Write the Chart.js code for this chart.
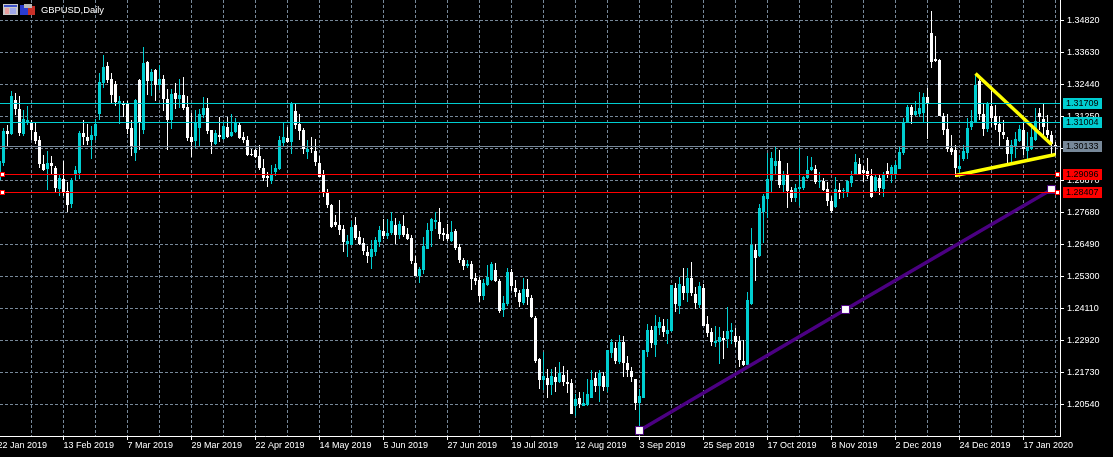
<!DOCTYPE html>
<html>
<head>
<meta charset="utf-8">
<title>GBPUSD,Daily</title>
<script src="https://cdn.jsdelivr.net/npm/chart.js@4/dist/chart.umd.min.js"></script>
<style>
html, body { margin: 0; padding: 0; background: #000; overflow: hidden; }
canvas { display: block; }
</style>
</head>
<body>
<canvas id="chart" width="1113" height="457"></canvas>
<script>
const symbolTitle = 'GBPUSD,Daily';

const opens = [
1.28877,1.29510,1.30700,1.30588,1.31852,1.31518,1.30588,1.30997,1.30997,1.30662,
1.30365,1.29472,1.29287,1.29510,1.29324,1.28543,1.28915,1.28468,1.27985,1.29063,
1.29138,1.30625,1.30477,1.30365,1.30514,1.31332,1.32485,1.33117,1.32633,1.32447,
1.31704,1.31704,1.31704,1.30811,1.29882,1.32596,1.30737,1.33266,1.32559,1.32968,
1.32410,1.32633,1.31890,1.31109,1.32113,1.31890,1.32038,1.31592,1.30477,1.30328,
1.30811,1.31295,1.31555,1.30737,1.30216,1.30551,1.30402,1.30848,1.30514,1.30662,
1.30923,1.30477,1.30365,1.29844,1.29993,1.29770,1.29324,1.29026,1.28840,1.29175,
1.29287,1.30253,1.30439,1.30291,1.31443,1.30960,1.30737,1.29919,1.30067,1.29956,
1.29510,1.29063,1.28394,1.27948,1.27316,1.27204,1.27055,1.26497,1.26460,1.27204,
1.26758,1.26535,1.26200,1.26014,1.26200,1.26572,1.26981,1.26795,1.26907,1.27204,
1.26832,1.27167,1.26869,1.26721,1.25791,1.25307,1.25531,1.26312,1.26981,1.27316,
1.27316,1.26907,1.26869,1.26609,1.26981,1.26386,1.25902,1.25679,1.25754,1.25233,
1.25159,1.24564,1.24973,1.25159,1.25531,1.25122,1.24043,1.24266,1.25456,1.24861,
1.24675,1.24303,1.24824,1.24489,1.23746,1.22221,1.21440,1.21514,1.21254,1.21552,
1.21366,1.21626,1.21366,1.21328,1.20473,1.20771,1.20473,1.20510,1.20771,1.21514,
1.21217,1.21589,1.21180,1.22444,1.22630,1.22109,1.22853,1.22072,1.21775,1.21477,
1.20585,1.20771,1.22481,1.23299,1.22742,1.23374,1.23448,1.23151,1.23262,1.24861,
1.24192,1.24936,1.24675,1.25233,1.24638,1.24229,1.24861,1.23522,1.23225,1.22816,
1.22853,1.23002,1.22965,1.23225,1.23076,1.22890,1.22147,1.21998,1.24266,1.26274,
1.26051,1.27687,1.28171,1.28877,1.29398,1.29584,1.28692,1.29063,1.28506,1.28208,
1.28543,1.28580,1.28952,1.29249,1.29287,1.28803,1.28840,1.28543,1.28097,1.27873,
1.28506,1.28468,1.28431,1.28766,1.29101,1.29472,1.29249,1.29212,1.29026,1.28468,
1.28952,1.28543,1.29212,1.29101,1.29101,1.29287,1.29882,1.30997,1.31592,1.31295,
1.31332,1.31369,1.31964,1.34344,1.33377,1.33340,1.31257,1.30774,1.30067,1.29993,
1.29287,1.29658,1.29882,1.30848,1.31034,1.32559,1.31332,1.30774,1.31629,1.31257,
1.30960,1.30662,1.30365,1.29844,1.30142,1.30328,1.30737,1.29956,1.30030,1.30365,
1.31369,1.31146,1.30737,1.30551,1.30179
];
const highs = [
1.29696,1.30811,1.30923,1.32187,1.32113,1.32001,1.31481,1.31629,1.31109,1.30997,
1.30514,1.29807,1.29956,1.29770,1.29398,1.29101,1.29584,1.28803,1.28952,1.29398,
1.30700,1.31109,1.30960,1.30886,1.31146,1.32857,1.33526,1.33266,1.32857,1.32559,
1.32001,1.31815,1.31815,1.31109,1.31890,1.32633,1.33823,1.33303,1.33005,1.33005,
1.33154,1.32782,1.32262,1.32262,1.32485,1.32633,1.32708,1.32001,1.31369,1.31481,
1.31518,1.31964,1.31927,1.30737,1.30737,1.31220,1.31034,1.31220,1.31332,1.31183,
1.31034,1.30662,1.30514,1.30030,1.30030,1.30179,1.29658,1.29175,1.29435,1.29472,
1.30514,1.31034,1.30848,1.31778,1.31704,1.31332,1.30811,1.30365,1.30477,1.30402,
1.29770,1.29249,1.28543,1.27985,1.27576,1.28134,1.27204,1.26832,1.27353,1.27502,
1.26981,1.26721,1.26423,1.26646,1.26758,1.27167,1.27427,1.27427,1.27687,1.27464,
1.27353,1.27576,1.27092,1.26832,1.26051,1.25642,1.26758,1.27278,1.27464,1.27687,
1.27836,1.27092,1.27241,1.27353,1.27055,1.26497,1.25977,1.25902,1.25865,1.25419,
1.25270,1.25196,1.25717,1.25828,1.25791,1.25196,1.24564,1.25605,1.25568,1.25159,
1.24787,1.25233,1.25196,1.24601,1.23820,1.22258,1.22481,1.21849,1.21849,1.21923,
1.22109,1.21961,1.21812,1.21477,1.20919,1.20994,1.20994,1.21477,1.21812,1.21737,
1.21812,1.21737,1.22556,1.22965,1.22853,1.23113,1.23076,1.22332,1.21923,1.21477,
1.21105,1.22556,1.23522,1.23448,1.23857,1.23783,1.23708,1.23708,1.24973,1.25047,
1.25270,1.25605,1.25605,1.25828,1.24898,1.25084,1.25010,1.23820,1.23374,1.23448,
1.23411,1.23262,1.24155,1.23560,1.23374,1.23076,1.22927,1.24712,1.27092,1.26497,
1.27985,1.28357,1.29882,1.29919,1.30142,1.29993,1.29212,1.29510,1.28617,1.28729,
1.30067,1.29026,1.29770,1.29733,1.29435,1.29175,1.28952,1.28803,1.28282,1.28989,
1.28766,1.28580,1.28877,1.29212,1.29844,1.29696,1.29398,1.29696,1.29287,1.29101,
1.29063,1.29175,1.29510,1.29435,1.29584,1.30105,1.31183,1.31667,1.31667,1.31815,
1.32150,1.32113,1.32299,1.35162,1.34232,1.33377,1.31369,1.31332,1.30551,1.30179,
1.29807,1.30179,1.31183,1.31481,1.32782,1.32633,1.31741,1.31778,1.32224,1.31667,
1.31257,1.31109,1.30477,1.30365,1.30662,1.30923,1.31034,1.30662,1.30811,1.31555,
1.31555,1.31704,1.31295,1.30700,1.30291
];
const lows = [
1.28840,1.29398,1.30105,1.30551,1.31295,1.30514,1.30514,1.30923,1.30365,1.30216,
1.29324,1.29212,1.28506,1.29101,1.28431,1.28282,1.28282,1.27687,1.27836,1.28877,
1.28915,1.30179,1.30179,1.29658,1.30365,1.31109,1.32299,1.32485,1.31704,1.31629,
1.30960,1.31220,1.30588,1.29770,1.29584,1.29993,1.30588,1.32038,1.32001,1.31815,
1.32224,1.31443,1.29993,1.30774,1.31518,1.31555,1.31481,1.30328,1.29733,1.30067,
1.30105,1.31183,1.30588,1.29844,1.30179,1.30291,1.30365,1.30439,1.30477,1.30625,
1.30402,1.30253,1.29770,1.29770,1.29696,1.29249,1.28840,1.28617,1.28729,1.29026,
1.29249,1.30142,1.30253,1.29844,1.30774,1.30365,1.29844,1.29658,1.29882,1.29398,
1.28989,1.28245,1.27836,1.27092,1.27130,1.26832,1.26200,1.26014,1.26460,1.26646,
1.26460,1.26088,1.25791,1.25568,1.26051,1.26386,1.26683,1.26683,1.26832,1.26497,
1.26683,1.26758,1.26646,1.25754,1.25307,1.25047,1.25382,1.26312,1.26386,1.27055,
1.26683,1.26609,1.26609,1.26572,1.26274,1.25791,1.25531,1.25605,1.24787,1.24973,
1.24341,1.24415,1.24936,1.25122,1.25084,1.23932,1.23783,1.24192,1.24750,1.24527,
1.24155,1.24229,1.24229,1.23746,1.22072,1.21105,1.21068,1.20771,1.20882,1.20994,
1.21328,1.21217,1.20957,1.20176,1.20101,1.20399,1.20473,1.20473,1.20771,1.20994,
1.20622,1.21031,1.20994,1.22258,1.22035,1.22035,1.21552,1.21552,1.21366,1.20324,
1.19580,1.20771,1.22295,1.22630,1.22295,1.23113,1.23039,1.22779,1.23225,1.23969,
1.23894,1.24415,1.24341,1.24564,1.24080,1.24117,1.23448,1.23039,1.22704,1.22667,
1.22035,1.22221,1.22630,1.22779,1.22667,1.21923,1.21961,1.21998,1.24229,1.25122,
1.26014,1.26535,1.27464,1.28394,1.29063,1.28580,1.28431,1.27836,1.28059,1.28059,
1.27911,1.28506,1.28915,1.29212,1.28729,1.28580,1.28468,1.27911,1.27650,1.27836,
1.28171,1.28208,1.28245,1.28617,1.29101,1.29063,1.28803,1.28915,1.28208,1.28431,
1.28320,1.28245,1.28952,1.28766,1.28915,1.29287,1.29807,1.30997,1.30960,1.31257,
1.31220,1.31034,1.30402,1.33042,1.33266,1.31257,1.30551,1.29919,1.29807,1.28989,
1.29063,1.29584,1.29658,1.30737,1.31034,1.31109,1.30514,1.30662,1.30848,1.30737,
1.30105,1.30402,1.29510,1.29547,1.29696,1.30291,1.29807,1.29621,1.29993,1.30328,
1.30737,1.30551,1.30439,1.29807,1.29807
];
const closes = [
1.29584,1.30700,1.30588,1.32001,1.31518,1.30625,1.31146,1.31109,1.30737,1.30328,
1.29472,1.29249,1.29510,1.29398,1.28580,1.28952,1.28431,1.27948,1.28877,1.29249,
1.30625,1.30477,1.30328,1.30551,1.30960,1.32522,1.33080,1.32596,1.32038,1.31778,
1.31815,1.31667,1.30774,1.30105,1.31852,1.31034,1.33228,1.32559,1.32894,1.32410,
1.32633,1.31890,1.31109,1.32076,1.31890,1.32038,1.31555,1.30439,1.30291,1.30997,
1.31332,1.31555,1.30700,1.30291,1.30625,1.30477,1.30886,1.30477,1.30662,1.31034,
1.30439,1.30365,1.29807,1.29807,1.29733,1.29324,1.28952,1.28952,1.29063,1.29324,
1.30365,1.30477,1.30291,1.31741,1.30923,1.30700,1.30030,1.30030,1.30030,1.29547,
1.28989,1.28431,1.27948,1.27130,1.27204,1.27018,1.26572,1.26609,1.27130,1.26721,
1.26497,1.26237,1.26051,1.26312,1.26646,1.27018,1.26795,1.26907,1.27353,1.26832,
1.27241,1.26832,1.26683,1.25865,1.25307,1.25568,1.26423,1.27018,1.27427,1.27390,
1.26869,1.26832,1.26683,1.26944,1.26349,1.25902,1.25679,1.25754,1.25196,1.25122,
1.24564,1.25047,1.25270,1.25754,1.25122,1.24006,1.24303,1.25456,1.24936,1.24712,
1.24341,1.24824,1.24527,1.23783,1.22147,1.21440,1.21589,1.21254,1.21589,1.21366,
1.21700,1.21366,1.21291,1.20176,1.20733,1.20547,1.20585,1.20919,1.21440,1.21217,
1.21700,1.21180,1.22556,1.22853,1.22147,1.22853,1.22072,1.21812,1.21552,1.20585,
1.20845,1.22556,1.23299,1.22816,1.23448,1.23597,1.23225,1.23299,1.24973,1.24266,
1.25010,1.24675,1.25233,1.24675,1.24303,1.24936,1.23448,1.23188,1.22853,1.22890,
1.23039,1.22927,1.23262,1.23299,1.22853,1.22184,1.21998,1.24415,1.26460,1.25977,
1.27836,1.28282,1.28915,1.29696,1.29584,1.28692,1.29101,1.28468,1.28208,1.28580,
1.28617,1.28989,1.29249,1.29361,1.28803,1.28840,1.28506,1.28097,1.27725,1.28543,
1.28431,1.28506,1.28840,1.29026,1.29547,1.29101,1.29138,1.29026,1.28245,1.28989,
1.28580,1.29101,1.29063,1.29361,1.29435,1.29919,1.30997,1.31592,1.31295,1.31443,
1.31555,1.31964,1.31741,1.33266,1.33303,1.31257,1.30737,1.30030,1.29919,1.29324,
1.29398,1.29956,1.30811,1.31072,1.32410,1.31332,1.30774,1.31704,1.31183,1.30923,
1.30662,1.30551,1.29844,1.30179,1.30402,1.30774,1.30030,1.30105,1.30477,1.31072,
1.31220,1.30848,1.30551,1.30216,1.30142
];

const priceTicks = [1.3482, 1.3363, 1.3244, 1.3125, 1.3006, 1.2887, 1.2768, 1.2649, 1.253, 1.2411, 1.2292, 1.2173, 1.2054];
const gridBars = [8, 16, 24, 32, 40, 48, 56, 64, 72, 80, 88, 96, 104, 112, 120, 128, 136, 144, 152, 160, 168, 176, 184, 192, 200, 208, 216, 224, 232, 240, 248, 256, 264];
const dateLabels = ['22 Jan 2019', '13 Feb 2019', '7 Mar 2019', '29 Mar 2019', '22 Apr 2019', '14 May 2019', '5 Jun 2019', '27 Jun 2019', '19 Jul 2019', '12 Aug 2019', '3 Sep 2019', '25 Sep 2019', '17 Oct 2019', '8 Nov 2019', '2 Dec 2019', '24 Dec 2019', '17 Jan 2020'];

const cyanLevels = [1.31709, 1.31004];
const bidLevels = [1.30133];
const redLevels = [1.29096, 1.28407];

const wedgeUpperBars = [244, 263];
const wedgeUpperPrices = [1.32838, 1.30198];
const wedgeLowerBars = [239, 264];
const wedgeLowerPrices = [1.29045, 1.29826];
const channelBars = [160, 211.5, 263];
const channelPrices = [1.19562, 1.24062, 1.28524];

const CYAN = '#00ced1';
const WHITE = '#ffffff';
const FONT = '9px "Liberation Sans"';

const isBull = i => closes[i] > opens[i];
const barColors = opens.map((o, i) => isBull(i) ? CYAN : WHITE);

const toPoints = (xs, ys) => xs.map((x, i) => ({ x: x, y: ys[i] }));

// MT4 snaps its objects to whole pixel rows, so the overlays do the same
let rowOf = function(chart, price) {
    return Math.floor(chart.scales.y.getPixelForValue(price));
};

// no room kept for labels that hang over the plot edges
let noPadding = function(axis) {
    axis.paddingLeft = 0;
    axis.paddingRight = 0;
    axis.paddingTop = 0;
    axis.paddingBottom = 0;
};

let drawLevel = function(chart, price, color, withHandles) {
    const ctx = chart.ctx;
    const area = chart.chartArea;
    const row = rowOf(chart, price);

    ctx.fillStyle = color;
    ctx.fillRect(area.left, row, area.right - area.left, 1);

    if (withHandles) {
        [0, 1055].forEach(x => {
            ctx.fillStyle = color;
            ctx.fillRect(x, row - 2, 5, 5);
            ctx.fillStyle = WHITE;
            ctx.fillRect(x + 1, row - 1, 3, 3);
        });
    }

    ctx.fillStyle = color;
    ctx.fillRect(1063, row - 5, 39, 11);
    ctx.fillStyle = '#000';
    ctx.font = FONT;
    ctx.textAlign = 'left';
    ctx.textBaseline = 'middle';
    ctx.fillText(price.toFixed(5), 1066, row + 1);
};

let drawHeader = function(ctx) {
    // window icon
    ctx.fillStyle = '#c8c8c8';
    ctx.fillRect(3, 4, 15, 11);
    ctx.fillStyle = '#3c50c8';
    ctx.fillRect(4, 5, 13, 2);
    ctx.fillStyle = '#e8a0a0';
    ctx.fillRect(5, 8, 4, 6);
    ctx.fillStyle = '#a0a8e8';
    ctx.fillRect(10, 8, 6, 6);
    // save icon
    ctx.fillStyle = '#2a3cd0';
    ctx.fillRect(20, 5, 8, 10);
    ctx.fillStyle = '#c83028';
    ctx.fillRect(28, 6, 7, 9);
    ctx.fillStyle = '#b8b8b8';
    ctx.fillRect(24, 4, 8, 4);

    ctx.fillStyle = WHITE;
    ctx.font = '9.4px "Liberation Sans"';
    ctx.textAlign = 'left';
    ctx.textBaseline = 'alphabetic';
    ctx.fillText(symbolTitle, 41, 13);
};

const overlayPlugin = {
    id: 'overlay',
    afterDraw: function(chart) {
        const ctx = chart.ctx;
        ctx.save();
        cyanLevels.forEach(p => drawLevel(chart, p, CYAN, false));
        bidLevels.forEach(p => drawLevel(chart, p, '#778899', false));
        redLevels.forEach(p => drawLevel(chart, p, '#ff0000', true));
        drawHeader(ctx);
        ctx.restore();
    }
};

new Chart(document.getElementById('chart').getContext('2d'), {
    type: 'bar',
    data: {
        datasets: [{
            label: 'Wedge upper',
            type: 'line',
            data: toPoints(wedgeUpperBars, wedgeUpperPrices),
            borderColor: '#ffff00',
            borderWidth: 3.5,
            pointRadius: 0,
            order: 0
        }, {
            label: 'Wedge lower',
            type: 'line',
            data: toPoints(wedgeLowerBars, wedgeLowerPrices),
            borderColor: '#ffff00',
            borderWidth: 3.5,
            pointRadius: 0,
            order: 0
        }, {
            label: 'Channel',
            type: 'line',
            data: toPoints(channelBars, channelPrices),
            borderColor: '#4b0082',
            borderWidth: 3.5,
            pointStyle: 'rect',
            pointRadius: 5.6,
            pointBackgroundColor: WHITE,
            pointBorderColor: '#4b0082',
            pointBorderWidth: 1,
            clip: false,
            order: 0
        }, {
            label: 'Body',
            data: opens.map((o, i) => ({ x: i, y: [o, closes[i]] })),
            backgroundColor: barColors,
            barThickness: 3,
            grouped: false,
            inflateAmount: 0,
            order: 1
        }, {
            label: 'Wick',
            data: lows.map((l, i) => ({ x: i, y: [l, highs[i]] })),
            backgroundColor: barColors,
            barThickness: 1,
            grouped: false,
            inflateAmount: 0,
            order: 2
        }]
    },
    options: {
        responsive: false,
        animation: false,
        events: [],
        layout: { padding: 0, autoPadding: false },
        plugins: {
            legend: { display: false },
            tooltip: { enabled: false },
            title: { display: false }
        },
        scales: {
            x: {
                type: 'linear',
                offset: false,
                min: 0.125,
                max: 265.125,
                afterBuildTicks: function(axis) {
                    axis.ticks = [{ value: -0.5 }].concat(gridBars.map(v => ({ value: v })));
                },
                afterFit: function(axis) {
                    axis.height = 21;
                    noPadding(axis);
                },
                grid: {
                    offset: false,
                    color: '#778899',
                    lineWidth: 1,
                    tickLength: 4,
                    tickColor: ctx => (ctx.tick && ctx.tick.value % 16 === 0) ? WHITE : 'rgba(0,0,0,0)'
                },
                border: { display: true, color: WHITE, width: 1, dash: [3, 2] },
                ticks: {
                    autoSkip: false,
                    maxRotation: 0,
                    minRotation: 0,
                    align: 'start',
                    padding: 0,
                    color: WHITE,
                    font: { family: '"Liberation Sans"', size: 9 },
                    callback: function(value) {
                        if (value < 0) return dateLabels[0];
                        return value % 16 === 0 ? dateLabels[value / 16] : '';
                    }
                }
            },
            y: {
                position: 'right',
                min: 1.193577,
                max: 1.355712,
                afterBuildTicks: function(axis) {
                    axis.ticks = priceTicks.map(v => ({ value: v }));
                },
                afterFit: function(axis) {
                    axis.width = 53;
                    noPadding(axis);
                },
                grid: {
                    color: '#778899',
                    lineWidth: 1,
                    tickLength: 4,
                    tickColor: WHITE
                },
                border: { display: true, color: WHITE, width: 1, dash: [3, 2] },
                ticks: {
                    padding: 3,
                    color: WHITE,
                    font: { family: '"Liberation Sans"', size: 9 },
                    callback: value => value.toFixed(5)
                }
            }
        }
    },
    plugins: [overlayPlugin]
});
</script>
</body>
</html>
